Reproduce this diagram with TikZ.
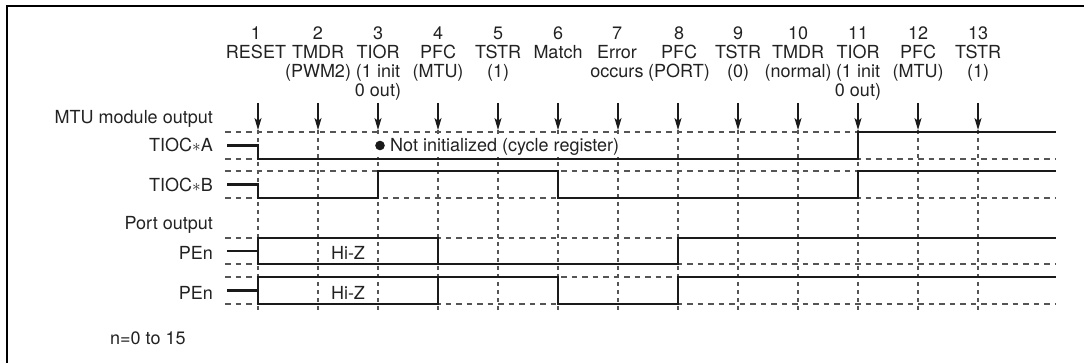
\documentclass[tikz,border=0pt]{standalone}
\usepackage{fontspec}
\setmainfont{TeX Gyre Heros}
\usetikzlibrary{arrows.meta}
\definecolor{dgray}{HTML}{555555}
\definecolor{sig}{HTML}{1A1A1A}
\definecolor{txt}{HTML}{222222}
\begin{document}
\begin{tikzpicture}[x=1pt,y=-1pt,
  font=\fontsize{18}{19}\selectfont, text=txt,
  sigline/.style={line width=2.6pt, draw=sig, line join=miter},
  refline/.style={line width=1.2pt, draw=dgray, dash pattern=on 5.5pt off 5pt},
  vline/.style={line width=1.2pt, draw=dgray, dash pattern=on 4pt off 4pt},
  evarrow/.style={line width=1.2pt, draw=sig, -{Stealth[length=12pt,width=7pt,inset=3pt]}},
  hdr/.style={align=center, inner sep=0pt, anchor=north},
  lbl/.style={anchor=base east, inner sep=0pt},
  plain/.style={inner sep=0pt}]
\useasboundingbox (0,0) rectangle (1084,363);
\draw[line width=2.5pt] (7,363) -- (7,6) -- (1084,6);

% header labels, event arrows and event lines
\foreach \i/\dx/\t in {1/-2/{1\\RESET},2/0/{2\\TMDR\\(PWM2)},3/0/{3\\TIOR\\(1 init\\0 out)},
  4/0/{4\\PFC\\(MTU)},5/0/{5\\TSTR\\(1)},6/0/{6\\Match},7/-1/{7\\Error\\occurs},
  8/1/{8\\PFC\\(PORT)},9/0/{9\\TSTR\\(0)},10/0/{10\\TMDR\\(normal)},
  11/0/{11\\TIOR\\(1 init\\0 out)},12/0/{12\\PFC\\(MTU)},13/0/{13\\TSTR\\(1)}}{
  \pgfmathsetmacro{\xx}{258+60*(\i-1)}
  \node[hdr] (h\i) at (\xx+\dx,26.5) {\t};
  \coordinate (a\i) at (\xx,103);
  \coordinate (b\i) at (\xx,130);
  \coordinate (e\i) at (\xx,310);
  \draw[vline] (b\i) -- (e\i);
  \draw[evarrow] (a\i) -- (b\i);
}

% reference levels
\foreach \y in {132,159,171,198,238,264,277,304}{
  \draw[refline] (225,\y) -- (1056,\y);
}

% left labels
\node[lbl] (mtu) at (213,123.5) {MTU module output};
\node[lbl] (tia) at (213,151.5) {TIOC$\ast$A};
\node[lbl] (tib) at (213,191.5) {TIOC$\ast$B};
\node[lbl] (port) at (213,229.5) {Port output};
\node[lbl] (pe1) at (213,260) {PEn};
\node[lbl] (pe2) at (213,299) {PEn};
\node[plain, anchor=base west] (note) at (110,344) {n=0 to 15};

% TIOC*A
\draw[sigline] (227,145.5) -- (258,145.5) -- (258,159) -- (858,159) -- (858,132) -- (1056,132);
% TIOC*B
\draw[sigline] (227,184.5) -- (258,184.5) -- (258,198) -- (378,198) -- (378,171) -- (558,171)
  -- (558,198) -- (858,198) -- (858,171) -- (1056,171);
% PEn 1
\draw[sigline] (227,251) -- (258,251);
\draw[sigline] (258,238) rectangle (438,264);
\draw[sigline] (438,264) -- (678,264) -- (678,238) -- (1056,238);
% PEn 2
\draw[sigline] (227,290.5) -- (258,290.5);
\draw[sigline] (258,277) rectangle (438,304);
\draw[sigline] (438,277) -- (558,277) -- (558,304) -- (678,304) -- (678,277) -- (1056,277);

% annotations
\node[plain, anchor=base west, fill=white, inner xsep=13pt, inner ysep=2pt] (ni) at (377,151.5) {\hspace{0pt}Not initialized (cycle register)};
\fill[sig] (380,145.5) circle (4.8pt);
\node[plain, anchor=base] (hz1) at (348,260) {Hi-Z};
\node[plain, anchor=base] (hz2) at (348,299) {Hi-Z};
\end{tikzpicture}
\end{document}
